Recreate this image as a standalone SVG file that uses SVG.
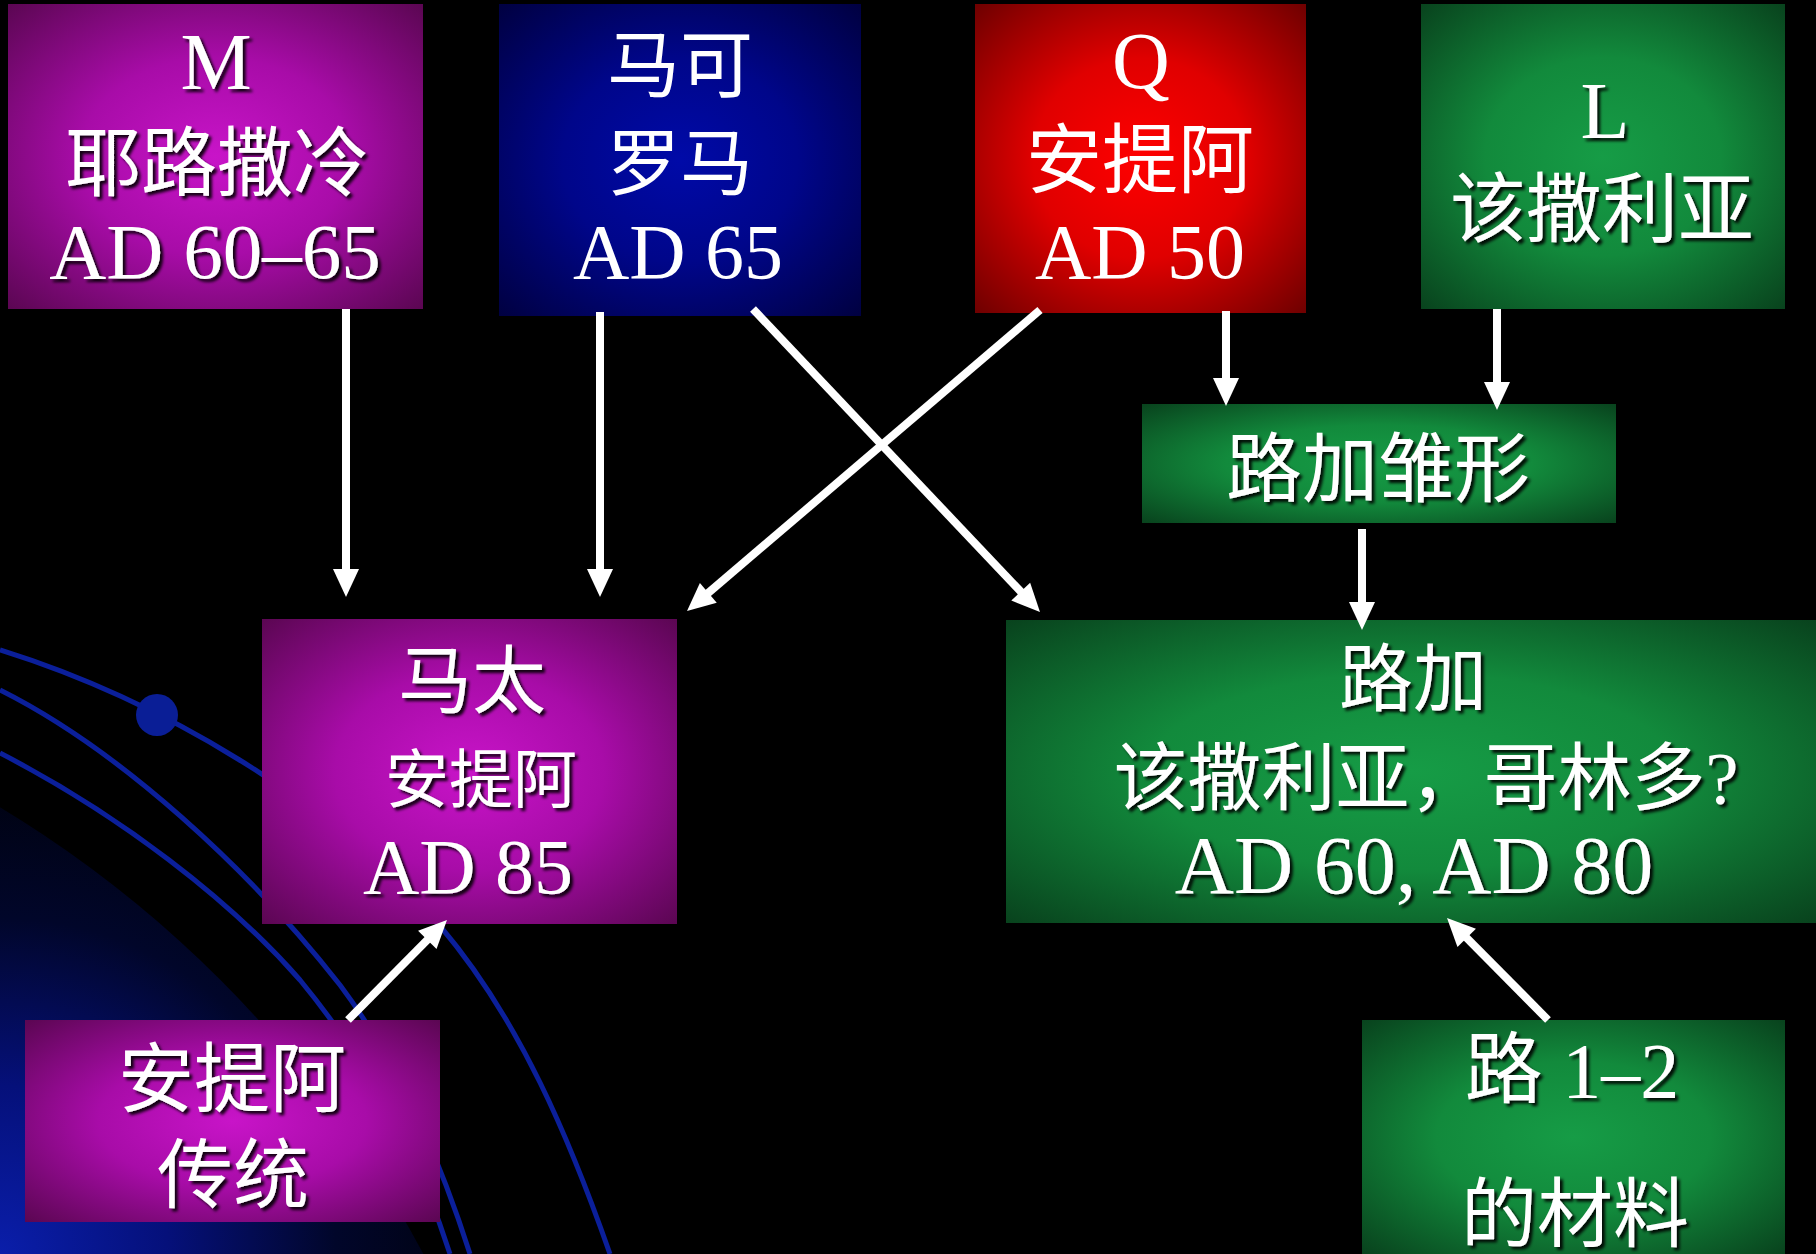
<svg xmlns="http://www.w3.org/2000/svg" width="1816" height="1254" viewBox="0 0 1816 1254">
<defs>
<radialGradient id="gM" cx="50%" cy="50%" r="72%"><stop offset="0" stop-color="#c814c8"/><stop offset="0.45" stop-color="#a80ca8"/><stop offset="1" stop-color="#58064f"/></radialGradient>
<radialGradient id="gB" cx="50%" cy="50%" r="72%"><stop offset="0" stop-color="#000aa8"/><stop offset="0.45" stop-color="#00068a"/><stop offset="1" stop-color="#00003e"/></radialGradient>
<radialGradient id="gR" cx="50%" cy="50%" r="72%"><stop offset="0" stop-color="#ff0000"/><stop offset="0.45" stop-color="#e00000"/><stop offset="1" stop-color="#6a0000"/></radialGradient>
<radialGradient id="gG" cx="50%" cy="50%" r="72%"><stop offset="0" stop-color="#169c46"/><stop offset="0.45" stop-color="#128a3c"/><stop offset="1" stop-color="#08401c"/></radialGradient>
<radialGradient id="gBg" gradientUnits="userSpaceOnUse" cx="0" cy="1254" r="560"><stop offset="0" stop-color="#0a1eaa"/><stop offset="0.3" stop-color="#05107a"/><stop offset="0.6" stop-color="#01062a"/><stop offset="1" stop-color="#000000"/></radialGradient>
<filter id="sh" x="-10%" y="-10%" width="130%" height="130%"><feDropShadow dx="3" dy="3" stdDeviation="1.5" flood-color="#000" flood-opacity="0.9"/></filter>
<marker id="ah" markerUnits="userSpaceOnUse" viewBox="-4 -15 34 30" markerWidth="34" markerHeight="30" refX="0" refY="0" orient="auto"><path d="M-2,-13 L26,0 L-2,13 Z" fill="#fff"/></marker>
<style>
.t{fill:#fff;font-family:'Liberation Serif','Noto Sans CJK SC',serif;text-anchor:middle}
.sd{filter:url(#sh)}
.c{stroke:#fff;stroke-width:8;fill:none;marker-end:url(#ah)}
.arc{stroke:#0b1f9a;stroke-width:5;fill:none}
</style>
</defs>
<rect width="1816" height="1254" fill="#000"/>
<g id="background">
<circle cx="-600" cy="1800" r="1160" fill="url(#gBg)"/>
<path class="arc" d="M0,650 C160,700 330,800 440,926 C520,1020 570,1140 610,1254"/>
<path class="arc" d="M0,690 C120,750 250,870 340,985 C400,1065 440,1160 470,1254"/>
<path class="arc" d="M0,753 C120,815 230,900 300,980 C370,1065 420,1160 450,1254"/>
<circle cx="157" cy="715" r="21" fill="#0a1e96"/>
</g>
<g id="nodeM">
<rect x="8" y="4" width="415" height="305" fill="url(#gM)"/>
<g class="sd">
<text class="t" x="216" y="89" font-size="80">M</text>
<text class="t" x="217" y="190" font-size="76">耶路撒冷</text>
<text class="t" x="215" y="278" font-size="79">AD 60–65</text>
</g>
</g>
<g id="nodeMark">
<rect x="499" y="4" width="362" height="312" fill="url(#gB)"/>
<text class="t" x="680" y="91" font-size="73">马可</text>
<text class="t" x="680" y="189" font-size="73">罗马</text>
<text class="t" x="678" y="278" font-size="78">AD 65</text>
</g>
<g id="nodeQ">
<rect x="975" y="4" width="331" height="309" fill="url(#gR)"/>
<text class="t" x="1141" y="88" font-size="80">Q</text>
<text class="t" x="1140" y="187" font-size="76">安提阿</text>
<text class="t" x="1140" y="278" font-size="78">AD 50</text>
</g>
<g id="nodeL">
<rect x="1421" y="4" width="364" height="305" fill="url(#gG)"/>
<g class="sd">
<text class="t" x="1605" y="138" font-size="80">L</text>
<text class="t" x="1602" y="236" font-size="76">该撒利亚</text>
</g>
</g>
<g id="nodeProtoLuke">
<rect x="1142" y="404" width="474" height="119" fill="url(#gG)"/>
<text class="t sd" x="1378" y="496" font-size="76">路加雏形</text>
</g>
<g id="nodeMatthew">
<rect x="262" y="619" width="415" height="305" fill="url(#gM)"/>
<g class="sd">
<text class="t" x="472" y="707" font-size="74">马太</text>
<text class="t" x="481" y="802" font-size="64">安提阿</text>
<text class="t" x="468" y="893" font-size="78">AD 85</text>
</g>
</g>
<g id="nodeLuke">
<rect x="1006" y="620" width="810" height="303" fill="url(#gG)"/>
<g class="sd">
<text class="t" x="1413" y="705" font-size="74">路加</text>
<text class="t" x="1426" y="804" font-size="74">该撒利亚，哥林多?</text>
<text class="t" x="1414" y="893" font-size="82">AD 60, AD 80</text>
</g>
</g>
<g id="nodeAntioch">
<rect x="25" y="1020" width="415" height="202" fill="url(#gM)"/>
<g class="sd">
<text class="t" x="232" y="1106" font-size="76">安提阿</text>
<text class="t" x="233" y="1202" font-size="76">传统</text>
</g>
</g>
<g id="nodeLk12">
<rect x="1362" y="1020" width="423" height="234" fill="url(#gG)"/>
<g class="sd">
<text class="t" x="1572" y="1097" font-size="78">路 1–2</text>
<text class="t" x="1575" y="1241" font-size="76">的材料</text>
</g>
</g>
<g id="connectors">
<line class="c" x1="346" y1="309" x2="346" y2="571"/>
<line class="c" x1="600" y1="312" x2="600" y2="571"/>
<line class="c" x1="1040" y1="310" x2="706.8" y2="594.1"/>
<line class="c" x1="753" y1="309" x2="1022.1" y2="593.1"/>
<line class="c" x1="1226" y1="311" x2="1226" y2="380"/>
<line class="c" x1="1497" y1="309" x2="1497" y2="384"/>
<line class="c" x1="1362" y1="529" x2="1362" y2="604"/>
<line class="c" x1="348" y1="1020" x2="428.7" y2="938.5"/>
<line class="c" x1="1548" y1="1020" x2="1465.3" y2="936.5"/>
</g>
</svg>
